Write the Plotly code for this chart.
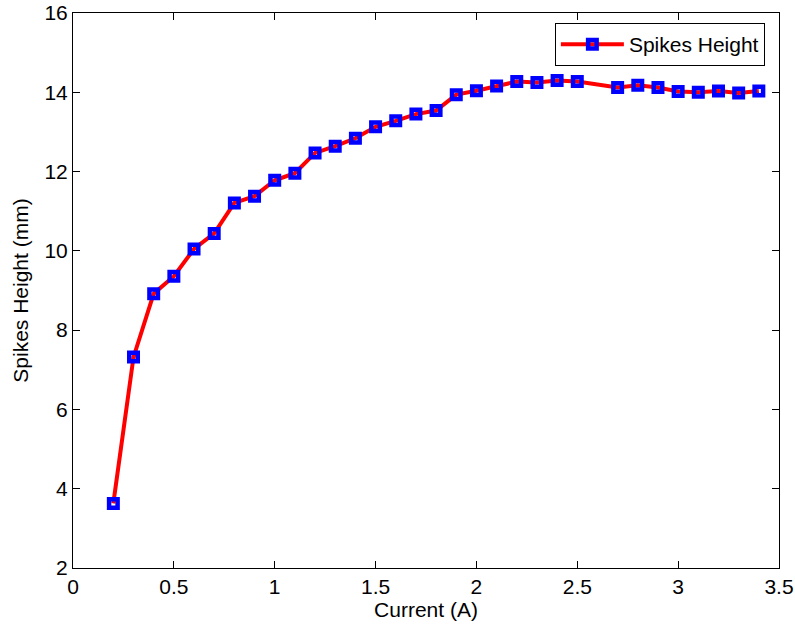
import plotly.graph_objects as go

current = [0.2, 0.3, 0.4, 0.5, 0.6, 0.7, 0.8, 0.9, 1.0, 1.1, 1.2, 1.3, 1.4, 1.5, 1.6, 1.7, 1.8, 1.9,
           2.0, 2.1, 2.2, 2.3, 2.4, 2.5, 2.7, 2.8, 2.9, 3.0, 3.1, 3.2, 3.3, 3.4]
height = [3.63, 7.32, 8.92, 9.36, 10.05, 10.44, 11.21, 11.38, 11.78, 11.96, 12.47, 12.64, 12.84, 13.13,
          13.28, 13.45, 13.54, 13.94, 14.04, 14.16, 14.27, 14.25, 14.30, 14.27, 14.12, 14.18, 14.12,
          14.02, 14.00, 14.03, 13.98, 14.03]

fig = go.Figure()
fig.add_trace(go.Scatter(
    x=current, y=height, mode="lines+markers", name="Spikes Height",
    line=dict(color="#ff0000", width=4),
    marker=dict(symbol="square-open", size=8.5, color="#0000ff",
                line=dict(color="#0000ff", width=4.5)),
))

font = dict(family="Liberation Sans, Arial, Helvetica, sans-serif", size=21, color="black")
axis_common = dict(showline=True, linecolor="black", linewidth=1, mirror="ticks",
                   ticks="inside", ticklen=7, tickcolor="black", showgrid=False,
                   zeroline=False, tickfont=font, automargin=False)

fig.update_layout(
    width=795, height=627,
    margin=dict(l=73, r=16, t=13, b=59),
    paper_bgcolor="white", plot_bgcolor="white",
    font=font,
    xaxis=dict(range=[0, 3.5], dtick=0.5, title=dict(text="Current (A)", font=font, standoff=4),
               **axis_common),
    yaxis=dict(range=[2, 16], dtick=2, title=dict(text="Spikes Height (mm)", font=font, standoff=10),
               **axis_common),
    legend=dict(x=0.980, y=0.982, xanchor="right", yanchor="top", itemwidth=63,
                bordercolor="black", borderwidth=1, bgcolor="white", font=font),
    showlegend=True,
)

fig.write_html("out.html", config={"displayModeBar": False},
               post_script="document.body.style.margin='0';document.body.style.overflow='hidden';")
